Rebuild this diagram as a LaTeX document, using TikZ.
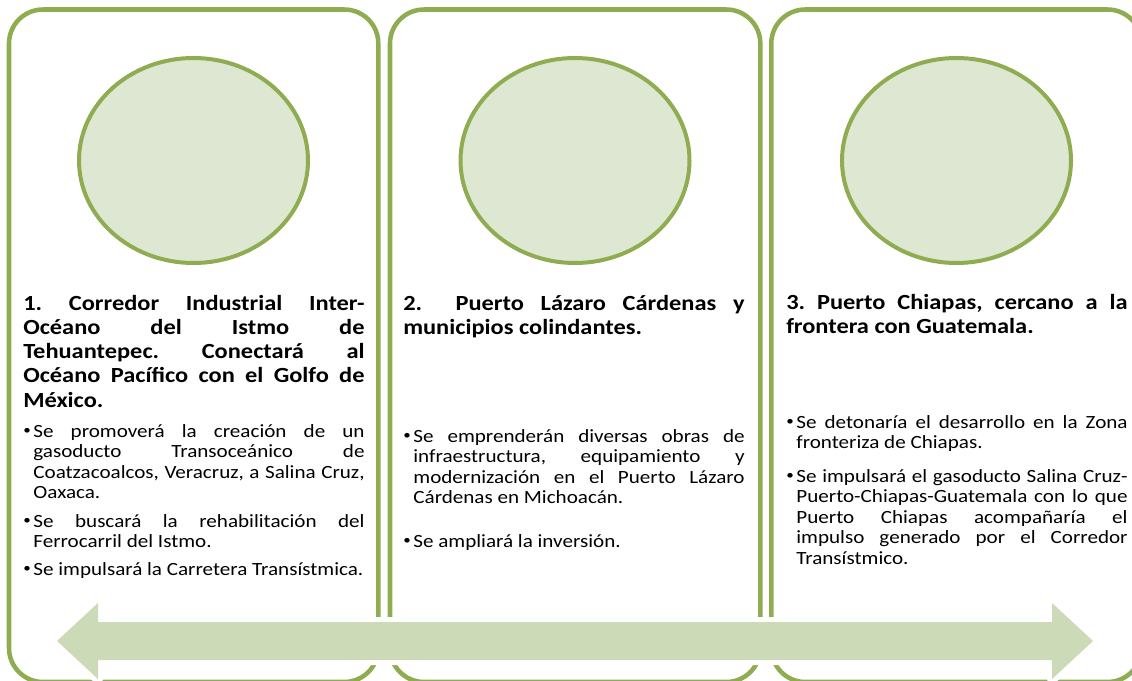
\documentclass[tikz,border=0pt]{standalone}
\usepackage{fontspec}
\setmainfont{Carlito}[FakeStretch=1.13]
\definecolor{leaf}{HTML}{8FAC51}
\definecolor{leaflight}{HTML}{DDE7D1}
\definecolor{leafarrow}{HTML}{CCDAB7}
\newcommand{\bitem}{\hangindent=7.6pt\hangafter=1\makebox[7.6pt][l]{\raisebox{0.12em}{\fontsize{10}{10}\selectfont\textbullet}}}

\begin{document}
\frenchspacing\hbadness=10000\tolerance=10000
\begin{tikzpicture}[
  x=0.75pt, y=-0.75pt,
  panel/.style={draw=leaf, line width=3.4pt, rounded corners=25.5pt},
  disc/.style={draw=leaf, fill=leaflight, line width=3pt},
  ttl/.style={anchor=base west, inner sep=0, text width=256pt, align=justify,
    font=\bfseries\fontsize{16.2}{18.2}\selectfont},
  bul/.style={anchor=base west, inner sep=0, text width=256pt, align=justify,
    font=\fontsize{14}{15.4}\selectfont},
]
\useasboundingbox (0,0) rectangle (1132,681);
\begin{scope}
\clip (0,0) rectangle (1132,681);

\draw [panel] (9,9.5) rectangle (378.3,682);
\draw [panel] (390,9.5) rectangle (760.3,682);
\draw [panel] (771.3,9.5) rectangle (1141.5,682);

\draw [disc] (193.5,160.5) ellipse [x radius=114.5, y radius=102.5];
\draw [disc] (575,160.5) ellipse [x radius=114.5, y radius=102.5];
\draw [disc] (956.5,160.5) ellipse [x radius=114.5, y radius=102.5];

% double arrow along the bottom
\fill [leafarrow, preaction={draw=white, line width=7.5pt, line join=round}]
  (57,641) -- (98,603) -- (98,622) -- (1052,622) -- (1052,603) -- (1093,641)
  -- (1052,679) -- (1052,660) -- (98,660) -- (98,679) -- cycle;
\end{scope}

\node [ttl] (t1) at (23,310) {1. Corredor Industrial Inter-\linebreak Océano del Istmo de\linebreak Tehuantepec. Conectará al\linebreak Océano Pacífico con el Golfo de\linebreak México.\par};
\node [bul] (b1a) at (23,437) {\bitem Se promoverá la creación de un\linebreak gasoducto Transoceánico de\linebreak Coatzacoalcos, Veracruz, a Salina Cruz,\linebreak Oaxaca.\par};
\node [bul] (b1b) at (23,527) {\bitem Se buscará la rehabilitación del\linebreak Ferrocarril del Istmo.\par};
\node [bul] (b1c) at (23,575) {\bitem Se impulsará la Carretera Transístmica.\par};

\node [ttl] (t2) at (403,310) {2.~~Puerto Lázaro Cárdenas y\linebreak municipios colindantes.\par};
\node [bul] (b2a) at (403,442) {\bitem Se emprenderán diversas obras de\linebreak infraestructura, equipamiento y\linebreak modernización en el Puerto Lázaro\linebreak Cárdenas en Michoacán.\par};
\node [bul] (b2b) at (403,547) {\bitem Se ampliará la inversión.\par};

\node [ttl] (t3) at (786,309) {3. Puerto Chiapas, cercano a la\linebreak frontera con Guatemala.\par};
\node [bul] (b3a) at (786,428) {\bitem Se detonaría el desarrollo en la Zona\linebreak fronteriza de Chiapas.\par};
\node [bul] (b3b) at (786,482) {\bitem Se impulsará el gasoducto Salina Cruz-\linebreak Puerto-Chiapas-Guatemala con lo que\linebreak Puerto Chiapas acompañaría el\linebreak impulso generado por el Corredor\linebreak Transístmico.\par};

\end{tikzpicture}
\end{document}
